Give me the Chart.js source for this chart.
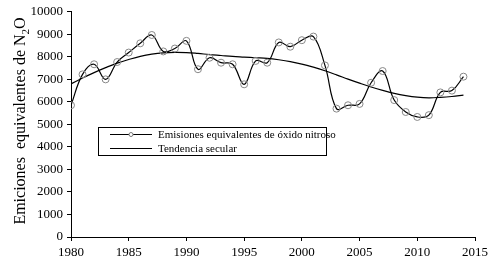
<!DOCTYPE html>
<html>
<head>
<meta charset="utf-8">
<script src="https://cdn.jsdelivr.net/npm/chart.js@4/dist/chart.umd.min.js"></script>
<style>
  html, body { margin: 0; padding: 0; background: #fff; }
  #wrap { width: 500px; height: 263px; position: relative; }
</style>
</head>
<body>
<div id="wrap"><canvas id="c" width="500" height="263"></canvas></div>
<script>
// Datos (1980-2014)
var anios = [1980, 1981, 1982, 1983, 1984, 1985, 1986, 1987, 1988, 1989,
             1990, 1991, 1992, 1993, 1994, 1995, 1996, 1997, 1998, 1999,
             2000, 2001, 2002, 2003, 2004, 2005, 2006, 2007, 2008, 2009,
             2010, 2011, 2012, 2013, 2014];
var emisiones = [5850, 7220, 7670, 7000, 7770, 8190, 8600, 8970, 8240, 8370,
                 8710, 7450, 7960, 7740, 7670, 6780, 7820, 7740, 8640, 8450,
                 8740, 8900, 7620, 5700, 5850, 5910, 6850, 7370, 6080, 5550,
                 5330, 5410, 6420, 6500, 7120];
var tendencia = [6800, 7060, 7300, 7520, 7720, 7880, 8020, 8120, 8180, 8200,
                 8190, 8150, 8100, 8060, 8020, 7990, 7960, 7930, 7870, 7790,
                 7680, 7540, 7380, 7200, 7010, 6830, 6660, 6510, 6380, 6280,
                 6210, 6180, 6200, 6240, 6300];
var etiquetas = ["Emisiones equivalentes de óxido nitroso", "Tendencia secular"];
var FUENTE = "'Liberation Serif', 'Times New Roman', serif";

function puntos(vals) {
    return vals.map(function (v, i) { return { x: anios[i], y: v }; });
}

// Leyenda con recuadro y título del eje Y (con subíndice) dibujados a mano
var extras = {
    id: "extras",
    afterDraw: function (chart) {
        var ctx = chart.ctx;
        ctx.save();
        // recuadro de la leyenda
        ctx.strokeStyle = "#000";
        ctx.lineWidth = 1;
        ctx.fillStyle = "#fff";
        ctx.fillRect(98.5, 127.5, 228, 28);
        ctx.strokeRect(98.5, 127.5, 228, 28);
        ctx.font = "11px " + FUENTE;
        ctx.textBaseline = "middle";
        var filas = [134.5, 148.5];
        for (var i = 0; i < 2; i++) {
            ctx.beginPath();
            ctx.moveTo(110, filas[i]);
            ctx.lineTo(152, filas[i]);
            ctx.strokeStyle = "#000";
            ctx.stroke();
            if (i === 0) {
                ctx.beginPath();
                ctx.arc(131, filas[i], 2, 0, Math.PI * 2);
                ctx.fillStyle = "#fff";
                ctx.fill();
                ctx.strokeStyle = "#777";
                ctx.stroke();
            }
            ctx.fillStyle = "#000";
            ctx.fillText(etiquetas[i], 158, filas[i] + 0.5);
        }
        // título del eje Y
        ctx.translate(21, 121);
        ctx.rotate(-Math.PI / 2);
        var fNormal = "16px " + FUENTE, fSub = "11px " + FUENTE;
        var t1 = "Emiciones  equivalentes de N", t2 = "2", t3 = "O";
        ctx.font = fNormal;
        var w1 = ctx.measureText(t1).width, w3 = ctx.measureText(t3).width;
        ctx.font = fSub;
        var w2 = ctx.measureText(t2).width;
        var x0 = -(w1 + w2 + w3) / 2;
        ctx.textBaseline = "middle";
        ctx.textAlign = "left";
        ctx.fillStyle = "#000";
        ctx.font = fNormal;
        ctx.fillText(t1, x0, 0);
        ctx.font = fSub;
        ctx.fillText(t2, x0 + w1, 5);
        ctx.font = fNormal;
        ctx.fillText(t3, x0 + w1 + w2, 0);
        ctx.restore();
    }
};

new Chart(document.getElementById("c"), {
    type: "line",
    data: {
        datasets: [{
            label: etiquetas[0],
            data: puntos(emisiones),
            borderColor: "#000",
            borderWidth: 1.2,
            tension: 0.4,
            pointRadius: 3.5,
            pointBorderColor: "#888",
            pointBackgroundColor: "rgba(255,255,255,0)",
            pointBorderWidth: 1,
            fill: false
        }, {
            label: etiquetas[1],
            data: puntos(tendencia),
            borderColor: "#000",
            borderWidth: 1.2,
            tension: 0.4,
            pointRadius: 0,
            fill: false
        }]
    },
    options: {
        responsive: false,
        animation: false,
        layout: { padding: { top: 11, right: 25, left: 0, bottom: 0 } },
        plugins: { legend: { display: false }, tooltip: { enabled: false } },
        scales: {
            x: {
                type: "linear",
                min: 1980, max: 2015,
                afterFit: function (s) { s.height = 26; },
                border: { color: "#000", width: 1 },
                grid: { drawOnChartArea: false, tickLength: 4, color: "#000" },
                ticks: {
                    stepSize: 5, color: "#000", padding: 4,
                    font: { family: FUENTE, size: 13 },
                    callback: function (v) { return String(v); }
                }
            },
            y: {
                min: 0, max: 10000,
                afterFit: function (s) { s.width = 71; },
                border: { color: "#000", width: 1 },
                grid: { drawOnChartArea: false, tickLength: 4, color: "#000" },
                ticks: {
                    stepSize: 1000, color: "#000", padding: 4,
                    font: { family: FUENTE, size: 13 },
                    callback: function (v) { return String(v); }
                }
            }
        }
    },
    plugins: [extras]
});
</script>
</body>
</html>
